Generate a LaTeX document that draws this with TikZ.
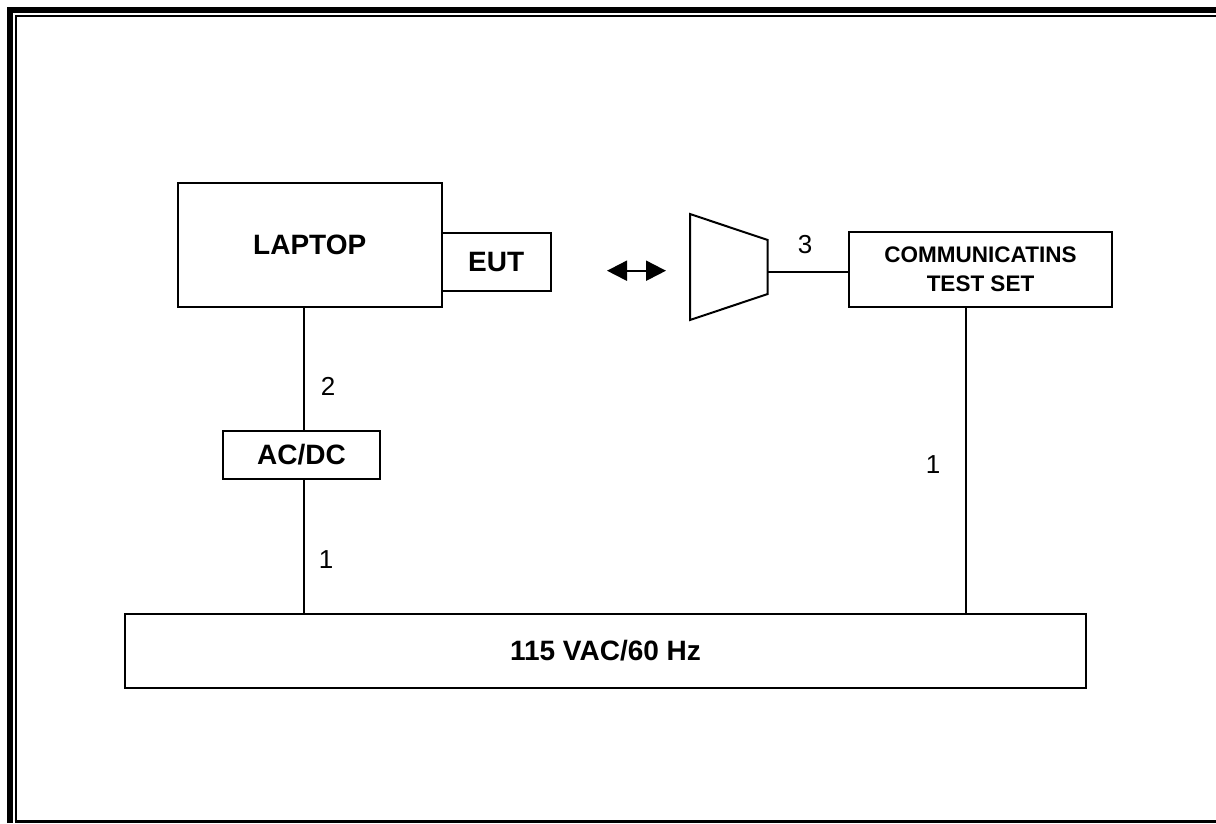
\documentclass[tikz,border=0pt]{standalone}
\usepackage{fontspec}
\setmainfont{Liberation Sans}
\usetikzlibrary{arrows.meta,positioning}

\begin{document}
\begin{tikzpicture}[x=1pt, y=-1pt,
    wire/.style={line width=2pt},
    box/.style={draw, line width=2pt, inner sep=0pt, font=\fontsize{28}{34}\selectfont\bfseries},
    num/.style={font=\fontsize{26}{30}\selectfont}]
  \useasboundingbox (0,0) rectangle (1216,823);
  % page frame
  \draw[line width=6pt, line join=miter] (10,823) -- (10,10) -- (1216,10);
  \draw[line width=2pt, line join=miter] (15.7,821) -- (15.7,15.7) -- (1216,15.7);
  \draw[line width=3pt] (14.7,821.5) -- (1216,821.5);
  % boxes
  \node[box, minimum width=264pt, minimum height=124pt] (laptop) at (309.7,244.7) {LAPTOP};
  \node[box, minimum width=109pt, minimum height=58pt]  (eut)    at (496.2,261.7) {EUT};
  \node[box, minimum width=157pt, minimum height=48pt]  (acdc)   at (301.5,455) {AC/DC};
  \node[box, minimum width=263pt, minimum height=75pt, align=center,
        font=\fontsize{22.5}{29}\selectfont\bfseries] (cts) at (980.5,269.5)
        {COMMUNICATINS\\TEST SET};
  \node[box, minimum width=961pt, minimum height=74pt]  (mains)  at (605.5,651) {115 VAC/60 Hz};
  % antenna
  \draw[wire, line join=miter] (690,214) -- (767.7,240) -- (767.7,294) -- (690,320) -- cycle;
  \coordinate (ant) at (767.7,272);
  \coordinate (al) at (607,270.7);
  \coordinate (ar) at (666,270.7);
  \draw[wire, {Triangle[length=20pt,width=20pt]}-{Triangle[length=20pt,width=20pt]}] (al) -- (ar);
  % cables
  \coordinate (dl) at (304,0);
  \coordinate (dr) at (966,0);
  \draw[wire] (laptop.south -| dl) -- (acdc.north -| dl);
  \draw[wire] (acdc.south -| dl) -- (mains.north -| dl);
  \draw[wire] (cts.south -| dr) -- (mains.north -| dr);
  \draw[wire] (ant) -- (ant -| cts.west);
  \foreach \x/\y/\t [count=\k] in {805/245/3, 328/386/2, 326/560/1, 933/465/1}
    \node[num] (lbl\k) at (\x,\y) {\t};
\end{tikzpicture}
\end{document}
